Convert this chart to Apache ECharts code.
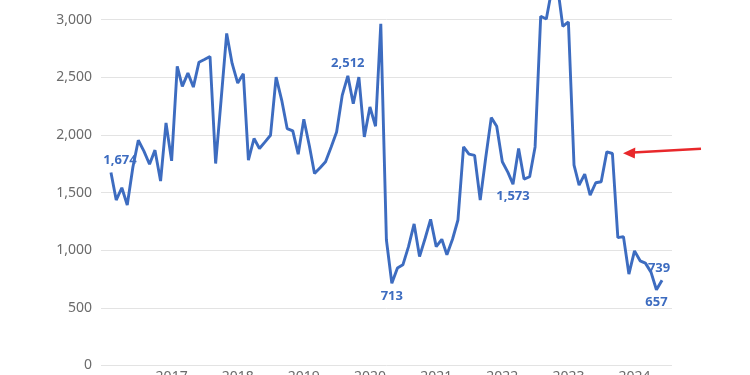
<!DOCTYPE html>
<html>
<head>
<meta charset="utf-8">
<script src="https://cdn.jsdelivr.net/npm/echarts@6/dist/echarts.min.js"></script>
<style>
html,body{margin:0;padding:0;background:#fff;}
#chart{width:750px;height:375px;}
</style>
</head>
<body>
<div id="chart"></div>
<script>
// Monthly series, Feb 2016 .. Jun 2024
const startYear = 2016;
const startMonth = 2; // February
const values = [
  1674, 1435, 1542, 1392, 1720, 1954, 1860, 1746, 1868, 1600, 2104, 1775,
  2594, 2421, 2536, 2415, 2631, 2654, 2680, 1752, 2300, 2880, 2620, 2450,
  2531, 1781, 1969, 1882, 1940, 1997, 2501, 2300, 2055, 2035, 1833, 2136,
  1902, 1666, 1715, 1767, 1896, 2026, 2343, 2512, 2271, 2501, 1983, 2242,
  2075, 2963, 1089, 713, 845, 873, 1031, 1228, 945, 1104, 1268, 1031,
  1095, 960, 1095, 1262, 1896, 1833, 1822, 1435, 1798, 2150, 2075, 1767,
  1675, 1573, 1882, 1617, 1637, 1896, 3029, 3006, 3260, 3300, 2942, 2980,
  1738, 1565, 1660, 1478, 1585, 1594, 1853, 1839, 1109, 1118, 793, 994,
  908, 888, 810, 657, 739
];
const xTickLabels = ['2017','2018','2019','2020','2021','2022','2023','2024'];
const yTickValues = [0, 500, 1000, 1500, 2000, 2500, 3000];

// Month categories (dates) for each value
const categories = values.map((v, i) => {
  const m = startMonth - 1 + i;
  return new Date(startYear + Math.floor(m / 12), m % 12, 1).getTime();
});

// Which points carry a value label, and where
const labelSpec = {
  0: {position: 'top', offset: [9, 0]},
  43: {position: 'top', offset: [0, 0]},
  51: {position: 'bottom', offset: [0, 0]},
  73: {position: 'bottom', offset: [0, 0]},
  99: {position: 'bottom', offset: [0, 0]},
  100: {position: 'top', offset: [-3, 0]}
};

const lineColor = '#3d6cc0';
const seriesData = values.map((v, i) => {
  const item = {value: [categories[i], v]};
  if (labelSpec[i]) {
    item.label = Object.assign({show: true}, labelSpec[i]);
  }
  return item;
});

const DAY = 24 * 3600 * 1000;
const chart = echarts.init(document.getElementById('chart'), null, {renderer: 'canvas'});
chart.setOption({
  animation: false,
  backgroundColor: '#ffffff',
  tooltip: {show: false},
  grid: {left: 101, right: 78, top: -38, bottom: 9.5, containLabel: false, outerBoundsMode: 'none'},
  xAxis: {
    type: 'time',
    min: categories[0] - 55 * DAY,
    max: categories[categories.length - 1] + 55 * DAY,
    minInterval: 365 * DAY,
    maxInterval: 366 * DAY,
    splitNumber: 9,
    axisLine: {show: false},
    axisTick: {show: false},
    splitLine: {show: false},
    axisPointer: {show: false},
    axisLabel: {
      show: true,
      margin: 5,
      color: '#6b6b6b',
      fontSize: 14,
      fontFamily: 'Noto Sans',
      showMinLabel: false,
      showMaxLabel: false,
      formatter: function (val) {
        const y = String(new Date(val).getFullYear());
        return xTickLabels.indexOf(y) >= 0 ? y : '';
      }
    }
  },
  yAxis: {
    type: 'value',
    min: 0,
    max: 3500,
    interval: 500,
    axisLine: {show: false},
    axisTick: {show: false},
    splitLine: {show: true, lineStyle: {color: '#e3e3e3', width: 1}},
    axisLabel: {
      margin: 9,
      color: '#6b6b6b',
      fontSize: 14,
      fontFamily: 'Noto Sans',
      formatter: function (v) {
        return yTickValues.indexOf(v) >= 0 ? v.toLocaleString('en-US') : '';
      }
    }
  },
  series: [{
    type: 'line',
    data: seriesData,
    symbol: 'circle',
    symbolSize: 0.01,
    showSymbol: true,
    showAllSymbol: true,
    lineStyle: {color: lineColor, width: 2.9},
    itemStyle: {color: lineColor},
    label: {
      show: false,
      color: lineColor,
      fontSize: 13,
      fontWeight: 'bold',
      fontFamily: 'Noto Sans',
      distance: 6,
      formatter: function (p) { return p.value[1].toLocaleString('en-US'); }
    },
    emphasis: {disabled: true}
  }],
  graphic: [
    {
      type: 'line',
      shape: {x1: 701, y1: 148.7, x2: 633, y2: 152.4},
      style: {stroke: '#e8282b', lineWidth: 2.5}
    },
    {
      type: 'polygon',
      shape: {points: [[623, 153.2], [635.3, 147.4], [634.8, 158.4]]},
      style: {fill: '#e8282b'}
    }
  ]
});
</script>
</body>
</html>
